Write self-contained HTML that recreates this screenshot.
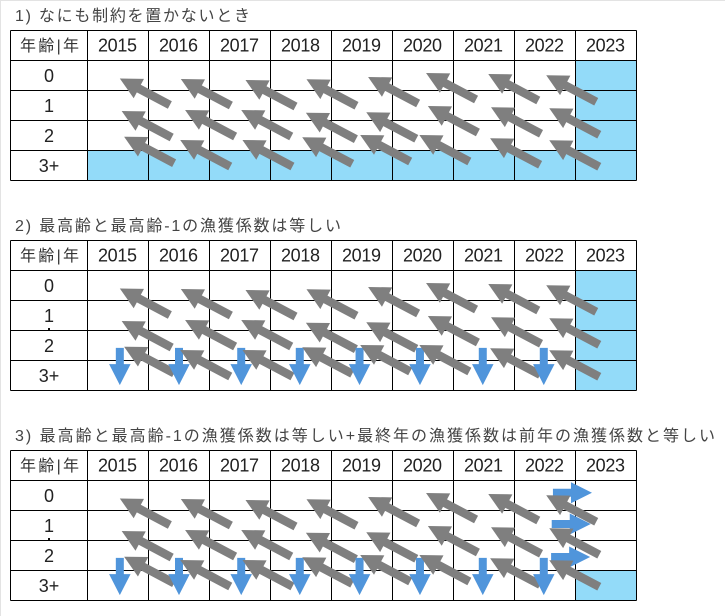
<!DOCTYPE html>
<html lang="ja">
<head>
<meta charset="utf-8">
<title>漁獲係数の制約</title>
<style>
html,body{margin:0;padding:0;background:#fff;}
body{width:725px;height:616px;overflow:hidden;}
svg{display:block;}
text{font-family:"Liberation Sans","Noto Sans CJK JP",sans-serif;}
.title{font-size:16px;fill:#444;}
.cell{font-size:18px;fill:#222;text-anchor:middle;}
.head{font-size:16px;fill:#333;text-anchor:middle;}
</style>
</head>
<body>
<svg id="chart" xmlns="http://www.w3.org/2000/svg" width="725" height="616" viewBox="0 0 725 616">
  <rect x="0" y="0" width="725" height="1" fill="#e3e3e3"/>
  <rect x="0" y="0" width="1" height="616" fill="#e3e3e3"/>
</svg>
<script>
// Categories
const years = [2015, 2016, 2017, 2018, 2019, 2020, 2021, 2022, 2023];
const ageLabels = ['0', '1', '2', '3+'];
const panelTitles = [
  '1) なにも制約を置かないとき',
  '2) 最高齢と最高齢-1の漁獲係数は等しい',
  '3) 最高齢と最高齢-1の漁獲係数は等しい+最終年の漁獲係数は前年の漁獲係数と等しい'
];
const headerLabel = '年齢|年';

// Shaded (estimated) cells per panel, rows are ages, columns are years
const shadedPanel1 = [
  [0,0,0,0,0,0,0,0,1],
  [0,0,0,0,0,0,0,0,1],
  [0,0,0,0,0,0,0,0,1],
  [1,1,1,1,1,1,1,1,1]
];
const shadedPanel2 = [
  [0,0,0,0,0,0,0,0,1],
  [0,0,0,0,0,0,0,0,1],
  [0,0,0,0,0,0,0,0,1],
  [0,0,0,0,0,0,0,0,1]
];
const shadedPanel3 = [
  [0,0,0,0,0,0,0,0,0],
  [0,0,0,0,0,0,0,0,0],
  [0,0,0,0,0,0,0,0,0],
  [0,0,0,0,0,0,0,0,1]
];

// Grey cohort arrows: tip location read in axis units (year, age)
const cohortTipYearAge0 = [2015.53, 2016.53, 2017.59, 2018.59, 2019.60, 2020.55, 2021.57, 2022.52];
const cohortTipAgeAge0 = [0.60, 0.617, 0.65, 0.627, 0.55, 0.417, 0.45, 0.493];
const cohortTipYearAge1 = [2015.56, 2016.60, 2017.52, 2018.58, 2019.57, 2020.58, 2021.615, 2022.57];
const cohortTipAgeAge1 = [1.683, 1.65, 1.65, 1.74, 1.727, 1.517, 1.56, 1.593];
const cohortTipYearAge2 = [2015.60, 2016.52, 2017.54, 2018.52, 2019.47, 2020.44, 2021.60, 2022.57];
const cohortTipAgeAge2 = [2.54, 2.65, 2.65, 2.56, 2.483, 2.483, 2.593, 2.66];
const cohortSpanYears = 0.82;
const cohortSpanAges = 0.883;

// Blue constraint arrows in axis units
const downArrowYears = [2015.53, 2016.50, 2017.52, 2018.48, 2019.46, 2020.45, 2021.48, 2022.48];
const downArrowTopAge = 2.58;
const downArrowTipAge = 3.82;
const rightArrowStartYears = [2022.63, 2022.61, 2022.60];
const rightArrowAges = [0.407, 1.45, 2.55];
const rightArrowSpanYears = 0.64;

const panelOffsets = [0, 210, 420];
const NS = 'http://www.w3.org/2000/svg';
const svg = document.getElementById('chart');
const firstColumnLeft = 10.5;
const gridLeft = 87.5;
const columnWidth = 61;
const headerTop = 30.5;
const gridTop = 60.5;
const rowHeight = 30;

function xScale(year) { return gridLeft + (year - years[0]) * columnWidth; }
function yScale(age) { return gridTop + age * rowHeight; }

function make(tag, attrs, parent, text) {
  const node = document.createElementNS(NS, tag);
  for (const key in attrs) node.setAttribute(key, attrs[key]);
  if (text !== undefined) node.textContent = text;
  parent.appendChild(node);
  return node;
}
function pts(list) {
  return list.map(function (p) { return p[0].toFixed(2) + ',' + p[1].toFixed(2); }).join(' ');
}
function arrowPoints(x1, y1, x2, y2, shaft, headLength, headWidth) {
  // from (x1,y1) tail to (x2,y2) tip
  const len = Math.hypot(x2 - x1, y2 - y1);
  const ux = (x2 - x1) / len;
  const uy = (y2 - y1) / len;
  const px = -uy;
  const py = ux;
  const bx = x2 - ux * headLength;
  const by = y2 - uy * headLength;
  return pts([
    [x1 + px * shaft / 2, y1 + py * shaft / 2],
    [bx + px * shaft / 2, by + py * shaft / 2],
    [bx + px * headWidth / 2, by + py * headWidth / 2],
    [x2, y2],
    [bx - px * headWidth / 2, by - py * headWidth / 2],
    [bx - px * shaft / 2, by - py * shaft / 2],
    [x1 - px * shaft / 2, y1 - py * shaft / 2]
  ]);
}

function drawTable(group, shaded, panelNumber) {
  shaded.forEach(function (row, a) {
    row.forEach(function (flag, c) {
      if (!flag) return;
      const r = make('rect', { x: xScale(years[c]), y: yScale(a), width: columnWidth, height: rowHeight, fill: '#93dbf9' }, group);
      
      
    });
  });
  const right = xScale(years[years.length - 1] + 1);
  const bottom = yScale(ageLabels.length);
  const lineStyle = { stroke: '#000', 'stroke-width': 1, 'shape-rendering': 'crispEdges' };
  function rule(x1, y1, x2, y2, name) {
    const l = make('line', Object.assign({ x1: x1, y1: y1, x2: x2, y2: y2 }, lineStyle), group);
    
    
  }
  rule(firstColumnLeft, headerTop, right, headerTop, 'table-top-border');
  for (let a = 0; a <= ageLabels.length; a++) {
    rule(firstColumnLeft, yScale(a), right, yScale(a), 'row-rule-' + a);
  }
  rule(firstColumnLeft, headerTop, firstColumnLeft, bottom, 'table-left-border');
  for (let c = 0; c <= years.length; c++) {
    rule(xScale(years[0] + c), headerTop, xScale(years[0] + c), bottom, 'column-rule-' + c);
  }
  const hdr = make('text', { x: 49.5, y: 51, 'class': 'head', textLength: 59, lengthAdjust: 'spacing' }, group, headerLabel);
  
  
  years.forEach(function (year) {
    const t = make('text', { x: xScale(year) + columnWidth / 2 - 0.5, y: 51.5, 'class': 'cell', textLength: 39 }, group, String(year));
    
    
  });
  ageLabels.forEach(function (label, a) {
    const t = make('text', { x: 49, y: yScale(a) + 21.5, 'class': 'cell' }, group, label);
    
    
  });
  if (panelNumber > 1) {
    const dot = make('rect', { x: 48, y: 118, width: 2, height: 2, fill: '#111' }, group);
    
    
  }
}

function cohortArrow(group, year, age, name) {
  const x2 = xScale(year);
  const y2 = yScale(age);
  const x1 = xScale(year + cohortSpanYears);
  const y1 = yScale(age + cohortSpanAges);
  const p = make('polygon', { points: arrowPoints(x1, y1, x2, y2, 8.5, 21.5, 22), fill: '#7f7f7f' }, group);
  
  
}
function downArrow(group, year, name) {
  const x = xScale(year);
  const p = make('polygon', { points: arrowPoints(x, yScale(downArrowTopAge), x, yScale(downArrowTipAge), 8, 21, 21.5), fill: '#5095db' }, group);
  
  
}
function rightArrow(group, year, age, name) {
  const p = make('polygon', { points: arrowPoints(xScale(year), yScale(age), xScale(year + rightArrowSpanYears), yScale(age), 8, 21, 21), fill: '#5095db' }, group);
  
  
}

const cohortYears = [cohortTipYearAge0, cohortTipYearAge1, cohortTipYearAge2];
const cohortAges = [cohortTipAgeAge0, cohortTipAgeAge1, cohortTipAgeAge2];
const shadedPanels = [shadedPanel1, shadedPanel2, shadedPanel3];
const titleWidths = [235, 326, 700];

panelOffsets.forEach(function (offset, i) {
  const panelNumber = i + 1;
  const group = make('g', { transform: 'translate(0,' + offset + ')' }, svg);
  
  
  const title = make('text', { x: 15, y: 21, 'class': 'title', textLength: titleWidths[i], lengthAdjust: 'spacing' }, group, panelTitles[i]);
  
  
  drawTable(group, shadedPanels[i], panelNumber);

  if (panelNumber === 3) {
    rightArrowStartYears.forEach(function (year, r) {
      rightArrow(group, year, rightArrowAges[r], 'right-arrow-age-' + r);
    });
  }
  // Draw column by column: a blue arrow sits over the previous column's grey tail,
  // under the grey tip of its own column.
  for (let c = 0; c < downArrowYears.length; c++) {
    if (panelNumber > 1) downArrow(group, downArrowYears[c], 'down-arrow-' + years[c]);
    for (let a = 0; a < cohortYears.length; a++) {
      cohortArrow(group, cohortYears[a][c], cohortAges[a][c], 'cohort-arrow-age-' + a + '-' + years[c]);
    }
  }
});
</script>
</body>
</html>
